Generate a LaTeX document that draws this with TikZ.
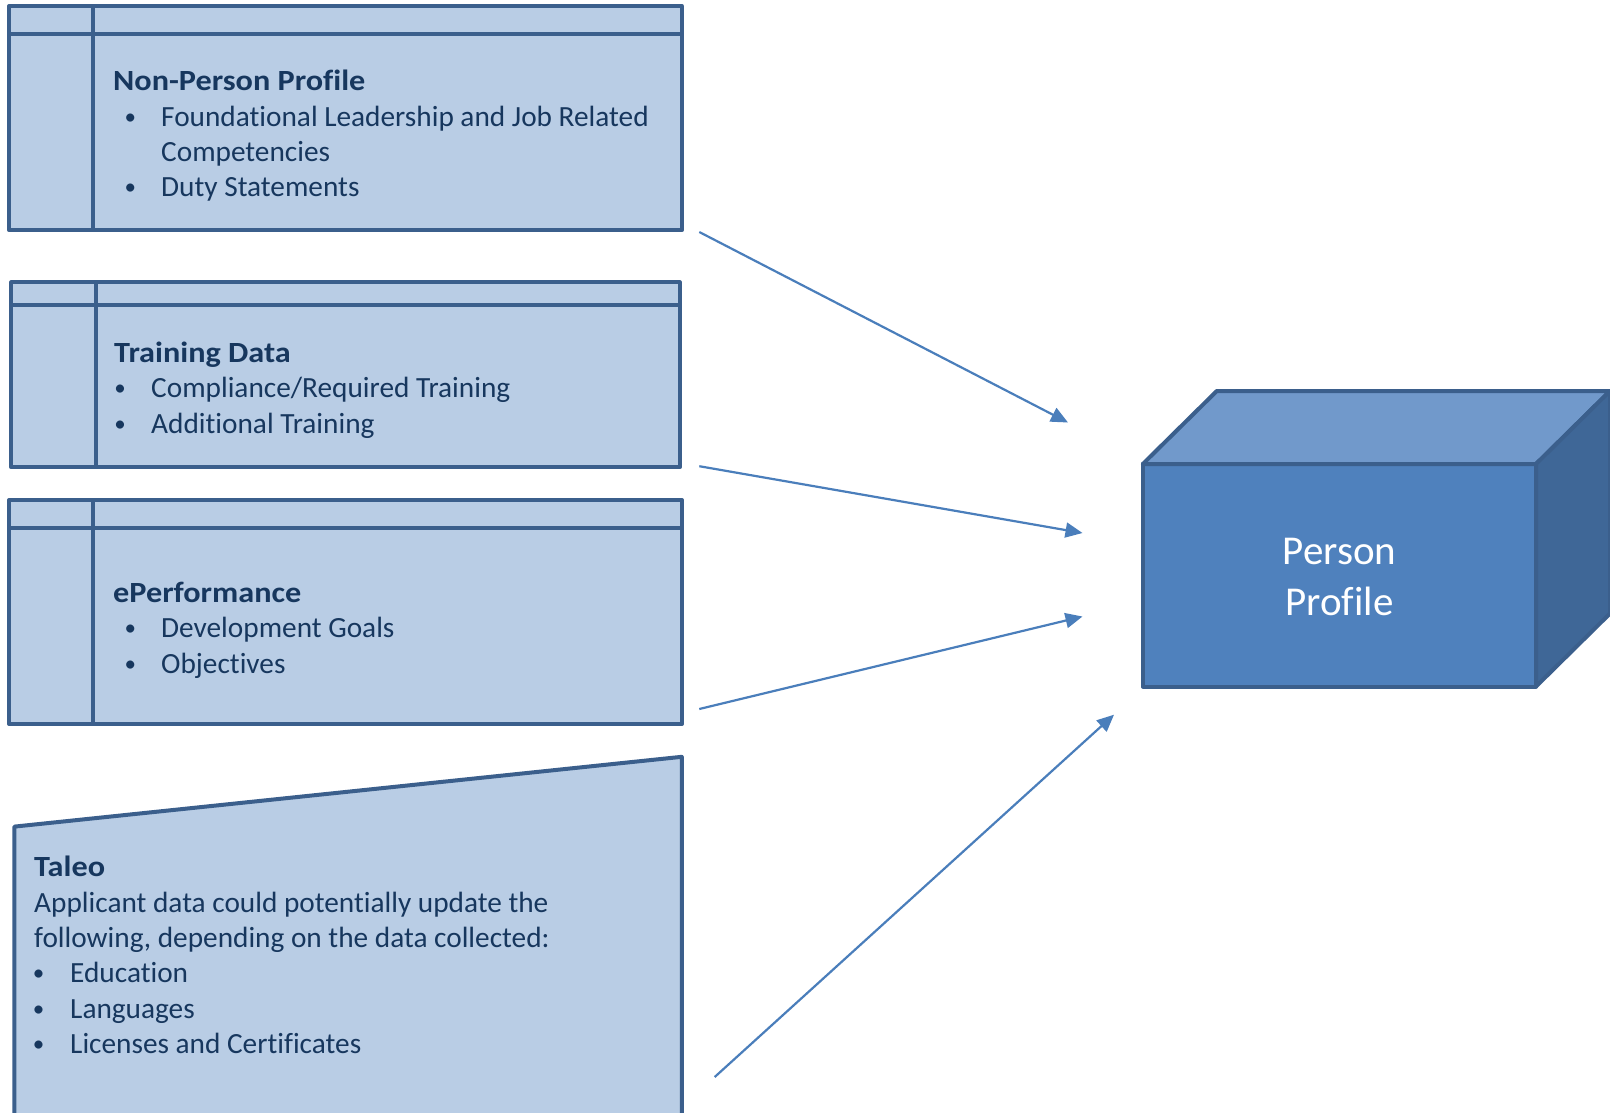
\documentclass[tikz,border=0pt]{standalone}
\usepackage{fontspec}
\setmainfont{Carlito}[Ligatures={CommonOff}]
\newfontfamily\ttlfont{Carlito}[Ligatures={CommonOff}, FakeStretch=1.10]
\usetikzlibrary{arrows.meta,calc}
\definecolor{boxfill}{HTML}{B9CDE5}
\definecolor{boxline}{HTML}{3B5F8C}
\definecolor{txt}{HTML}{17375E}
\definecolor{cubefront}{HTML}{4F81BD}
\definecolor{cubetop}{HTML}{7199CB}
\definecolor{cubeside}{HTML}{3F6797}
\definecolor{arrowc}{HTML}{4A7EBB}
\begin{document}
\begin{tikzpicture}[x=1pt,y=-1pt,
  panel/.style={draw=boxline, fill=boxfill, line width=4pt, line join=round, inner sep=0pt, outer sep=0pt, anchor=north west},
  rule/.style={draw=boxline, line width=4pt},
  ttl/.style={anchor=base west, inner sep=0pt, text=txt, font=\fontsize{29.3}{35}\ttlfont\bfseries},
  itm/.style={anchor=base west, inner sep=0pt, text=txt, font=\fontsize{29.3}{35}\selectfont},
  bul/.style={anchor=base, inner sep=0pt, text=txt, font=\fontsize{23}{35}\selectfont},
  face/.style={draw=boxline, line width=4pt, line join=round},
  flow/.style={draw=arrowc, line width=2.2pt, -{Triangle[length=17pt,width=15pt]}},
]
\clip (0,0) rectangle (1610,1112);
\fill[white] (0,0) rectangle (1610,1112);

% Non-Person Profile
\node[panel, minimum width=672.6pt, minimum height=224pt] (npp) at (9.2,6.2) {};
\draw[rule] ($(npp.north west)+(0,27.7)$) -- ($(npp.north east)+(0,27.7)$);
\draw[rule] ($(npp.north west)+(84.2,0)$) -- ($(npp.south west)+(84.2,0)$);
\node[ttl] (npp-t) at (113,90) {Non-Person Profile};
\node[bul] (npp-b1) at (130.4,124) {•};
\node[itm] (npp-l1) at (161,126) {Foundational Leadership and Job Related};
\node[itm] (npp-l2) at (161,161) {Competencies};
\node[bul] (npp-b2) at (130.4,194) {•};
\node[itm] (npp-l3) at (161,196) {Duty Statements};

% Training Data
\node[panel, minimum width=668.5pt, minimum height=184.8pt] (trn) at (11.3,282.4) {};
\draw[rule] ($(trn.north west)+(0,22.6)$) -- ($(trn.north east)+(0,22.6)$);
\draw[rule] ($(trn.north west)+(84.2,0)$) -- ($(trn.south west)+(84.2,0)$);
\node[ttl] (trn-t) at (114,362) {Training Data};
\node[bul] (trn-b1) at (120.2,395) {•};
\node[itm] (trn-l1) at (151,397) {Compliance/Required Training};
\node[bul] (trn-b2) at (120.2,431) {•};
\node[itm] (trn-l2) at (151,433) {Additional Training};

% ePerformance
\node[panel, minimum width=672.6pt, minimum height=224pt] (epf) at (9.2,500) {};
\draw[rule] ($(epf.north west)+(0,27.8)$) -- ($(epf.north east)+(0,27.8)$);
\draw[rule] ($(epf.north west)+(84.2,0)$) -- ($(epf.south west)+(84.2,0)$);
\node[ttl] (epf-t) at (113,602.5) {ePerformance};
\node[bul] (epf-b1) at (130.4,635) {•};
\node[itm] (epf-l1) at (161,637) {Development Goals};
\node[bul] (epf-b2) at (130.4,671) {•};
\node[itm] (epf-l2) at (161,673) {Objectives};

% Taleo
\draw[face, fill=boxfill] (14.4,826.6) -- (681.8,756.8) -- (681.8,1130) -- (14.4,1130) -- cycle;
\node[ttl] (tal-t) at (34,876) {Taleo};
\node[itm] (tal-l1) at (34,912) {Applicant data could potentially update the};
\node[itm] (tal-l2) at (34,947) {following, depending on the data collected:};
\node[bul] (tal-b1) at (38.5,980) {•};
\node[itm] (tal-l3) at (70,982) {Education};
\node[bul] (tal-b2) at (38.5,1016) {•};
\node[itm] (tal-l4) at (70,1018) {Languages};
\node[bul] (tal-b3) at (38.5,1051) {•};
\node[itm] (tal-l5) at (70,1053) {Licenses and Certificates};

% Person Profile cube
\node[face, fill=cubefront, minimum width=393.2pt, minimum height=222.5pt, inner sep=0pt, outer sep=0pt, anchor=north west] (pp) at (1142.8,464) {};
\draw[face, fill=cubetop] (pp.north west) -- ++(74,-73) -- ++(393.2,0) -- (pp.north east) -- cycle;
\draw[face, fill=cubeside] (pp.north east) -- ++(74,-73) -- ++(0,222.5) -- (pp.south east) -- cycle;
\node[align=center, text=white, font=\fontsize{41}{51}\selectfont, inner sep=0pt] (pp-t) at ($(pp.center)+(0,2)$) {Person\\Profile};

% arrows
\coordinate (s1) at (699.3,232);   \coordinate (e1) at (1068,422.5);
\coordinate (s2) at (699.3,466.2); \coordinate (e2) at (1082.5,533);
\coordinate (s3) at (699.3,709);   \coordinate (e3) at (1082.5,616.5);
\coordinate (s4) at (714.7,1077);  \coordinate (e4) at (1114,714.7);
\draw[flow] (s1) -- (e1);
\draw[flow] (s2) -- (e2);
\draw[flow] (s3) -- (e3);
\draw[flow] (s4) -- (e4);
\end{tikzpicture}
\end{document}
